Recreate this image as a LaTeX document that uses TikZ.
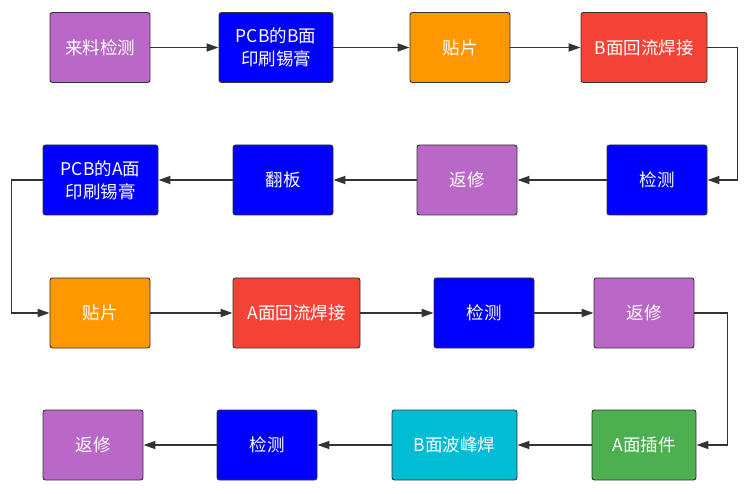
\documentclass[tikz,border=0pt]{standalone}
\usepackage{fontspec}
\setmainfont{Noto Sans CJK SC}
\usetikzlibrary{arrows.meta,positioning}

\definecolor{zise}{HTML}{BA68C8}
\definecolor{lanse}{HTML}{0000FF}
\definecolor{chengse}{HTML}{FF9800}
\definecolor{hongse}{HTML}{F44336}
\definecolor{qingse}{HTML}{00BCD4}
\definecolor{lvse}{HTML}{4CAF50}
\definecolor{xian}{HTML}{333333}

\begin{document}
\begin{tikzpicture}[x=1pt,y=-1pt,
	bu/.style={rectangle,rounded corners=2.5pt,draw=xian,line width=0.9pt,text=white,
		minimum width=100pt,minimum height=70pt,inner sep=0pt,align=center,
		font=\fontsize{17.5}{23}\selectfont},
	jt/.style={draw=xian,line width=1.8pt,-{Triangle[length=12pt,width=8pt]}},
]
\useasboundingbox (0,0) rectangle (747,494);

% row 1
\node[bu,fill=zise] (laoliao) at (100,47.5) {来料检测};
\node[bu,fill=lanse,minimum width=114pt] (yinB) at (276,47.5) {PCB的B面\\印刷锡膏};
\node[bu,fill=chengse] (tieB) at (460,47.5) {贴片};
\node[bu,fill=hongse,minimum width=126pt] (hanB) at (644,47.5) {B面回流焊接};
% row 2
\node[bu,fill=lanse] (jianB) at (657,180) {检测};
\node[bu,fill=zise] (fanB) at (467,180) {返修};
\node[bu,fill=lanse] (fanban) at (283,180) {翻板};
\node[bu,fill=lanse,minimum width=115pt] (yinA) at (100.5,180) {PCB的A面\\印刷锡膏};
% row 3
\node[bu,fill=chengse] (tieA) at (100,313) {贴片};
\node[bu,fill=hongse,minimum width=127pt] (hanA) at (296.5,313) {A面回流焊接};
\node[bu,fill=lanse] (jianA) at (484,313) {检测};
\node[bu,fill=zise] (fanA) at (644,313) {返修};
% row 4
\node[bu,fill=lvse,minimum width=104pt] (chajian) at (644,445) {A面插件};
\node[bu,fill=qingse,minimum width=125pt] (bofeng) at (454.5,445) {B面波峰焊};
\node[bu,fill=lanse] (jianC) at (267,445) {检测};
\node[bu,fill=zise] (fanC) at (93,445) {返修};

\draw[jt] (laoliao) -- (yinB);
\draw[jt] (yinB) -- (tieB);
\draw[jt] (tieB) -- (hanB);
\draw[jt] (hanB.east) -- ++(30,0) |- (jianB.east);
\draw[jt] (jianB) -- (fanB);
\draw[jt] (fanB) -- (fanban);
\draw[jt] (fanban) -- (yinA);
\draw[jt] (yinA.west) -- ++(-31,0) |- (tieA.west);
\draw[jt] (tieA) -- (hanA);
\draw[jt] (hanA) -- (jianA);
\draw[jt] (jianA) -- (fanA);
\draw[jt] (fanA.east) -- ++(33,0) |- (chajian.east);
\draw[jt] (chajian) -- (bofeng);
\draw[jt] (bofeng) -- (jianC);
\draw[jt] (jianC) -- (fanC);

\end{tikzpicture}
\end{document}
